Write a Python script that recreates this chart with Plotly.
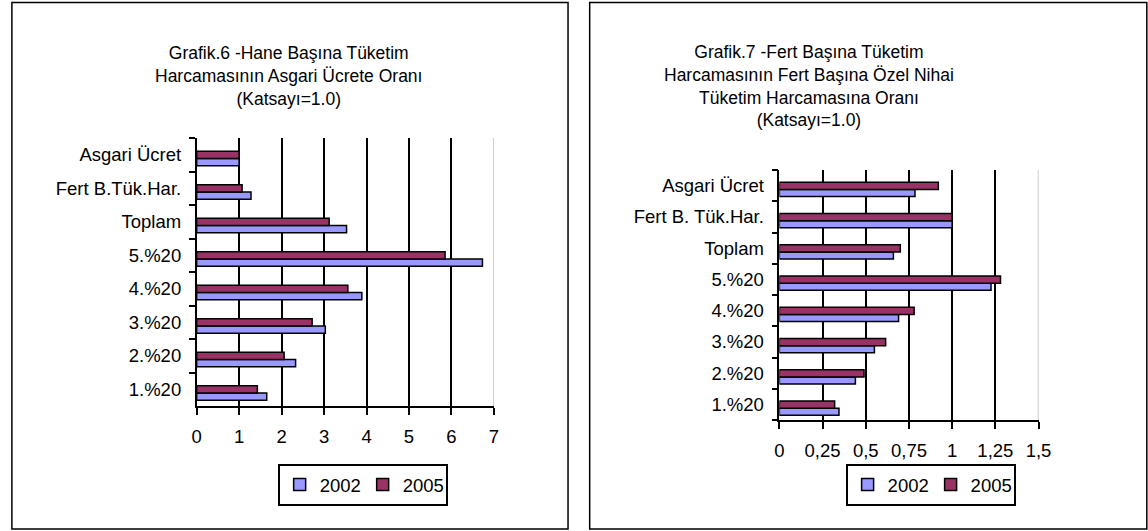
import plotly.graph_objects as go

cats_left = ["1.%20", "2.%20", "3.%20", "4.%20", "5.%20", "Toplam", "Fert B.Tük.Har.", "Asgari Ücret"]
left_2002 = [1.65, 2.33, 3.03, 3.89, 6.73, 3.53, 1.28, 1.0]
left_2005 = [1.43, 2.06, 2.72, 3.56, 5.85, 3.12, 1.07, 1.0]

cats_right = ["1.%20", "2.%20", "3.%20", "4.%20", "5.%20", "Toplam", "Fert B. Tük.Har.", "Asgari Ücret"]
right_2002 = [0.345, 0.44, 0.55, 0.69, 1.225, 0.66, 1.0, 0.785]
right_2005 = [0.32, 0.49, 0.615, 0.78, 1.28, 0.70, 1.0, 0.92]

years = ["2002", "2005"]
colors = {"2002": "#9999FF", "2005": "#993366"}

title_left = "Grafik.6 -Hane Başına Tüketim<br>Harcamasının Asgari Ücrete Oranı<br>(Katsayı=1.0)"
title_right = ("Grafik.7 -Fert Başına Tüketim<br>Harcamasının Fert Başına Özel Nihai<br>"
               "Tüketim Harcamasına Oranı<br>(Katsayı=1.0)")

W, H = 1148, 531
FONT = "Liberation Sans, Arial, sans-serif"
FS = 18.5
FS_TITLE = 17.5


def px_x(p):
    return p / W


def px_y(p):
    return 1 - p / H


fig = go.Figure()

# left chart
for yr, vals, off in [("2002", left_2002, -0.325), ("2005", left_2005, -0.11)]:
    fig.add_trace(go.Bar(
        x=vals, y=cats_left, orientation="h", name=yr,
        marker=dict(color=colors[yr], line=dict(color="black", width=1.5)),
        offset=off, width=0.215, xaxis="x", yaxis="y", legend="legend",
    ))
# right chart
for yr, vals, off in [("2002", right_2002, -0.345), ("2005", right_2005, -0.12)]:
    fig.add_trace(go.Bar(
        x=vals, y=cats_right, orientation="h", name=yr,
        marker=dict(color=colors[yr], line=dict(color="black", width=1.5)),
        offset=off, width=0.225, xaxis="x2", yaxis="y2", legend="legend2",
    ))

xcommon = dict(showgrid=True, gridcolor="black", gridwidth=1.5, zeroline=False,
               showline=True, linecolor="black", linewidth=1.5,
               ticks="outside", ticklen=7, tickwidth=1.5, tickcolor="black",
               ticklabelstandoff=6, tickfont=dict(family=FONT, size=FS, color="black"))
ycommon = dict(type="category", showgrid=False, zeroline=False,
               showline=True, linecolor="black", linewidth=1.5,
               ticks="outside", ticklen=6, tickwidth=1.5, tickcolor="black",
               tickson="boundaries", ticklabelstandoff=10,
               range=[-0.5, 7.5], tickfont=dict(family=FONT, size=FS, color="black"))

legcommon = dict(orientation="h", xanchor="left", yanchor="top",
                 bordercolor="black", borderwidth=2, bgcolor="white",
                 font=dict(family=FONT, size=FS, color="black"), itemwidth=30,
                 entrywidth=38, tracegroupgap=0)

fig.update_layout(
    width=W, height=H, autosize=False,
    margin=dict(l=0, r=0, t=0, b=0),
    paper_bgcolor="white", plot_bgcolor="white",
    separators=",.",
    barmode="overlay",
    font=dict(family=FONT, size=FS, color="black"),
    xaxis=dict(domain=[px_x(194.7), px_x(496.7)], range=[0, 7], dtick=1, anchor="y", **xcommon),
    yaxis=dict(domain=[px_y(406), px_y(138)], anchor="x", **ycommon),
    xaxis2=dict(domain=[px_x(786.7), px_x(1050)], range=[0, 1.5], dtick=0.25, anchor="y2", **xcommon),
    yaxis2=dict(domain=[px_y(420), px_y(170)], anchor="x2", **ycommon),
    legend=dict(x=px_x(277), y=px_y(464), **legcommon),
    legend2=dict(x=px_x(854), y=px_y(464), **legcommon),
    annotations=[
        dict(text=title_left, x=px_x(288), y=px_y(75.5), xref="paper", yref="paper",
             xanchor="center", yanchor="middle", showarrow=False,
             font=dict(family=FONT, size=FS_TITLE, color="black")),
        dict(text=title_right, x=px_x(817), y=px_y(85.5), xref="paper", yref="paper",
             xanchor="center", yanchor="middle", showarrow=False,
             font=dict(family=FONT, size=FS_TITLE, color="black")),
    ],
    shapes=[
        dict(type="rect", xref="paper", yref="paper", x0=px_x(7), x1=px_x(572), y0=px_y(529), y1=px_y(2.5),
             line=dict(color="black", width=1.5), layer="below"),
        dict(type="rect", xref="paper", yref="paper", x0=px_x(594), x1=px_x(1160), y0=px_y(529), y1=px_y(2.5),
             line=dict(color="black", width=1.5), layer="below"),
        dict(type="line", xref="x", yref="y domain", x0=7, x1=7, y0=0, y1=1,
             line=dict(color="#c0c0c0", width=1.5), layer="above"),
        dict(type="line", xref="x2", yref="y2 domain", x0=1.5, x1=1.5, y0=0, y1=1,
             line=dict(color="#c0c0c0", width=1.5), layer="above"),
    ],
)

fig.write_html(
    "out.html",
    config={"displayModeBar": False},
    post_script="document.body.style.margin='0';document.body.style.overflow='hidden';",
)
